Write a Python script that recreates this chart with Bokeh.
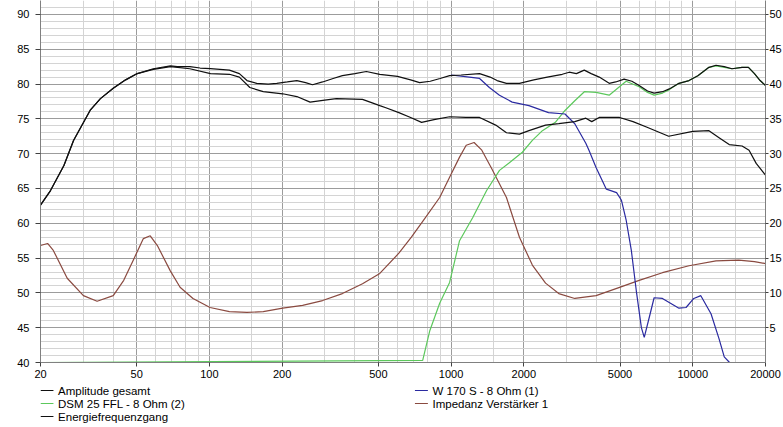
from bokeh.plotting import figure
from bokeh.layouts import column
from bokeh.models import Range1d, LinearAxis, FixedTicker, NumeralTickFormatter
from bokeh.core.properties import value
from bokeh.embed import file_html
from bokeh.resources import INLINE

# ---------------- data ----------------
x_ticks = [20, 50, 100, 200, 500, 1000, 2000, 5000, 10000, 20000]
x_minor = [30, 40, 60, 70, 80, 90, 150, 300, 400, 600, 700, 800, 900, 1500,
           3000, 4000, 6000, 7000, 8000, 9000, 15000]
y_ticks = [40, 45, 50, 55, 60, 65, 70, 75, 80, 85, 90]
y_minor = list(range(40, 93))
imp_ticks = [5, 10, 15, 20, 25, 30, 35, 40, 45, 50]

# Amplitude gesamt (dB)
amp_f = [20, 22, 25, 27.4, 32.2, 35.4, 40, 45, 50.3, 58.6, 69, 73.6, 83, 91.5, 101,
         121, 133, 143, 157, 175, 190, 210, 230, 250, 267, 294, 325, 355, 400, 446,
         507, 600, 680, 741, 820, 900, 986, 1100, 1312, 1450, 1550, 1695, 1918, 2200,
         2500, 2885, 3083, 3300, 3557, 3800, 4103, 4510, 4800, 5200, 5600, 6000, 6500,
         6920, 7500, 8000, 8770, 9650, 10500, 11670, 12480, 13500, 14530, 16000, 17000,
         18000, 19000, 20000]
amp_db = [62.6, 64.7, 68.3, 71.9, 76.3, 77.9, 79.4, 80.6, 81.5, 82.2, 82.6, 82.5, 82.5,
          82.3, 82.2, 82.0, 81.5, 80.5, 80.1, 80.0, 80.1, 80.3, 80.5, 80.2, 79.9, 80.3,
          80.8, 81.2, 81.5, 81.8, 81.4, 81.1, 80.6, 80.2, 80.4, 80.8, 81.2, 81.3, 81.5,
          81.0, 80.5, 80.1, 80.1, 80.6, 81.0, 81.4, 81.7, 81.5, 82.0, 81.5, 81.0, 80.1,
          80.3, 80.7, 80.4, 79.8, 79.0, 78.7, 78.9, 79.3, 80.1, 80.5, 81.2, 82.4, 82.7,
          82.5, 82.2, 82.4, 82.4, 81.5, 80.5, 79.8]

# DSM 25 FFL - 8 Ohm (2) (dB)
dsm_f = [20, 763, 817, 897, 986, 1084, 1228, 1403, 1586, 1742, 1972, 2169, 2387, 2700,
         2960, 3250, 3560, 3980, 4510, 5300, 6000, 6500, 6920, 7500, 8000, 8770, 9650,
         10500, 11670, 12480, 13500, 14530, 16000, 17000, 18000, 19000, 20000]
dsm_db = [40.0, 40.3, 44.6, 48.5, 51.5, 57.5, 60.8, 64.7, 67.6, 68.7, 70.2, 71.9, 73.3,
          74.5, 76.2, 77.6, 78.9, 78.8, 78.4, 80.4, 79.6, 78.8, 78.4, 78.7, 79.2, 80.1,
          80.5, 81.2, 82.4, 82.6, 82.4, 82.2, 82.4, 82.4, 81.5, 80.5, 79.8]

# Energiefrequenzgang (dB)
ener_f = [20, 22, 25, 27.4, 32.2, 35.4, 40, 45, 50.3, 58.6, 69, 83, 101, 121, 133, 147,
          167, 201, 230, 261, 300, 335, 430, 507, 537, 608, 680, 755, 850, 986, 1150,
          1312, 1530, 1695, 1918, 2100, 2460, 2790, 3250, 3610, 3820, 4100, 4980, 5660,
          6470, 7950, 10000, 11670, 12850, 14150, 16000, 17100, 18300, 20000]
ener_db = [62.6, 64.7, 68.3, 71.9, 76.3, 77.9, 79.4, 80.6, 81.5, 82.1, 82.5, 82.2, 81.5,
           81.4, 81.0, 79.5, 78.9, 78.6, 78.2, 77.4, 77.7, 77.9, 77.8, 76.9, 76.6, 75.9,
           75.2, 74.5, 74.9, 75.3, 75.2, 75.2, 74.1, 73.0, 72.8, 73.3, 74.1, 74.3, 74.6,
           75.1, 74.6, 75.2, 75.2, 74.6, 73.8, 72.5, 73.2, 73.3, 72.3, 71.3, 71.1, 70.5,
           68.6, 66.9]

# W 170 S - 8 Ohm (1) (dB)
w170_f = [1000, 1190, 1312, 1440, 1586, 1790, 2100, 2530, 2960, 3250, 3610, 3720, 3980,
          4390, 4840, 5070, 5305, 5570, 5840, 6130, 6300, 6610, 6920, 7490, 8770, 9380,
          10100, 10800, 11900, 12850, 13500, 14200, 20000]
w170_db = [81.3, 81.0, 80.8, 79.5, 78.4, 77.4, 76.9, 75.9, 75.7, 74.3, 71.5, 70.5, 68.0,
           64.9, 64.4, 63.3, 60.4, 56.1, 50.3, 45.0, 43.6, 46.5, 49.3, 49.2, 47.8, 47.9,
           49.2, 49.6, 47.0, 43.4, 40.8, 40.0, 40.0]

# Impedanz Verstaerker 1 (Ohm, right axis)
imp_f = [20, 21.4, 22.6, 25.8, 30.1, 34.3, 40, 44.2, 48.4, 53.3, 56.9, 60.9, 68.8, 75.6,
         85.5, 100.6, 121, 143, 167, 201, 243, 294, 355, 430, 507, 608, 685, 779, 897,
         986, 1084, 1155, 1245, 1340, 1470, 1695, 1918, 2169, 2460, 2790, 3250, 3980,
         4980, 6000, 7490, 9650, 12480, 15500, 18000, 20000]
imp_ohm = [16.8, 17.1, 16.1, 12.1, 9.6, 8.8, 9.6, 11.8, 14.7, 17.8, 18.2, 16.8, 13.2,
           10.8, 9.2, 7.9, 7.3, 7.2, 7.3, 7.8, 8.2, 8.9, 9.9, 11.3, 12.8, 15.7, 18.0, 20.7,
           23.7, 26.6, 29.5, 31.2, 31.6, 30.5, 27.9, 23.7, 18.0, 14.0, 11.4, 9.9, 9.2, 9.6,
           10.8, 11.8, 12.9, 13.9, 14.6, 14.7, 14.5, 14.2]

series_names = ["Amplitude gesamt", "DSM 25 FFL - 8 Ohm (2)", "Energiefrequenzgang",
                "W 170 S - 8 Ohm (1)", "Impedanz Verstärker 1"]
series_colors = ["#101010", "#5cc85c", "#101010", "#2a2aa0", "#8a4a40"]

# ---------------- main figure ----------------
FONT = "Liberation Sans"
MAJ = "#9c9c9c"
MIN = "#d4d4d4"
W = 782

p = figure(frame_width=725, frame_height=362, x_axis_type="log",
           x_range=Range1d(20, 20000), y_range=Range1d(40, 92.0),
           output_backend="svg", toolbar_location=None,
           min_border_left=40, min_border_right=0, min_border_top=0,
           min_border_bottom=21)
p.outline_line_color = None
p.background_fill_color = "white"
p.extra_y_ranges = {"imp": Range1d(0, 52.0)}

xa = p.xaxis[0]
xa.ticker = FixedTicker(ticks=x_ticks, minor_ticks=x_minor)
xa.formatter = NumeralTickFormatter(format="0")
ya = p.yaxis[0]
ya.ticker = FixedTicker(ticks=y_ticks, minor_ticks=y_minor)

ra = LinearAxis(y_range_name="imp", ticker=FixedTicker(ticks=imp_ticks))
p.add_layout(ra, "right")

for ax in (xa, ya, ra):
    ax.major_label_text_font = FONT
    ax.major_label_text_font_size = "11px"
    ax.major_label_text_color = "black"
    ax.axis_line_color = "#808080"
    ax.major_tick_line_color = "#404040"
    ax.major_tick_in = 0
    ax.major_tick_out = 4
    ax.minor_tick_line_color = None
xa.major_label_standoff = 3
ya.major_tick_out = 5
ya.major_label_standoff = 6
ra.major_tick_out = 3
ra.major_label_standoff = 1

p.xgrid.grid_line_color = MAJ
p.xgrid.minor_grid_line_color = MIN
p.xgrid.ticker = xa.ticker
p.ygrid.grid_line_color = MAJ
p.ygrid.minor_grid_line_color = MIN
p.ygrid.ticker = ya.ticker

p.line(imp_f, imp_ohm, y_range_name="imp", line_color=series_colors[4], line_width=1.2)
p.line(dsm_f, dsm_db, line_color=series_colors[1], line_width=1.2)
p.line(w170_f, w170_db, line_color=series_colors[3], line_width=1.2)
p.line(ener_f, ener_db, line_color=series_colors[2], line_width=1.2)
p.line(amp_f, amp_db, line_color=series_colors[0], line_width=1.2)

# ---------------- legend strip (pixel coordinates, y downward) ----------------
LH = 42
lg = figure(width=W, height=LH, x_range=Range1d(0, W), y_range=Range1d(LH, 0),
            output_backend="svg", toolbar_location=None,
            x_axis_location=None, y_axis_location=None,
            min_border_left=0, min_border_right=0, min_border_top=0,
            min_border_bottom=0)
lg.outline_line_color = None
lg.xgrid.visible = False
lg.ygrid.visible = False
lg.background_fill_color = "white"

col_x = [0, 0, 0, 405, 405]
row_y = [7, 20, 33, 7, 20]
lg.segment(x0=col_x, y0=row_y, x1=[c + 14 for c in col_x], y1=row_y,
           line_color=series_colors, line_width=1.2)
lg.text(x=[c + 19 for c in col_x], y=row_y, text=series_names,
        text_font=value(FONT), text_font_size="11.5px", text_color="black",
        text_baseline="middle", text_align="left")

open("out.html", "w").write(file_html(column(p, lg, spacing=0), INLINE))
